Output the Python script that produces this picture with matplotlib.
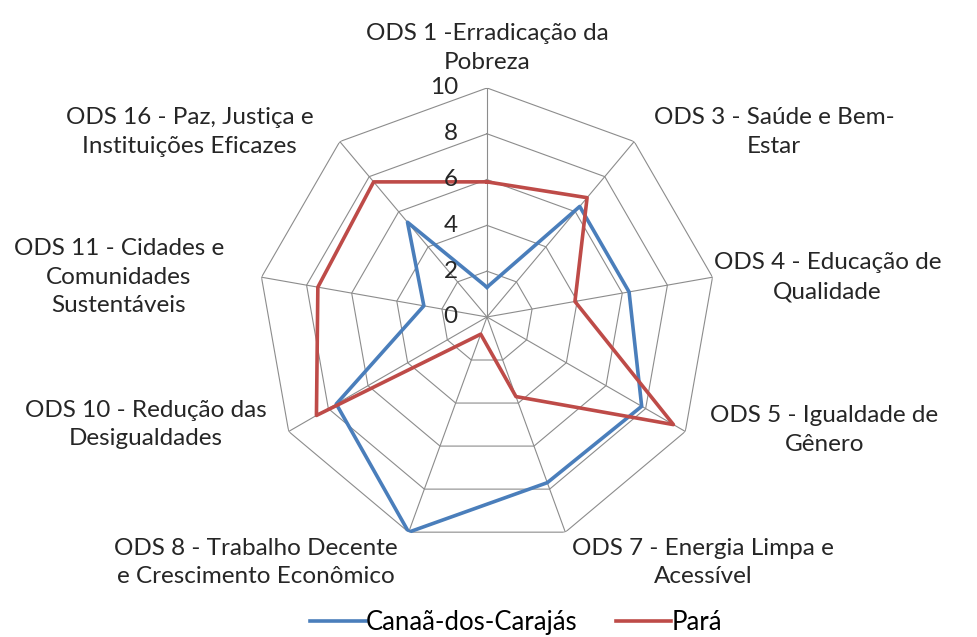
import numpy as np
import matplotlib.pyplot as plt

categories = [
    'ODS 1 -Erradicação da\nPobreza',
    'ODS 3 - Saúde e Bem-\nEstar',
    'ODS 4 - Educação de\nQualidade',
    'ODS 5 - Igualdade de\nGênero',
    'ODS 7 - Energia Limpa e\nAcessível',
    'ODS 8 - Trabalho Decente\ne Crescimento Econômico',
    'ODS 10 - Redução das\nDesigualdades',
    'ODS 11 - Cidades e\nComunidades\nSustentáveis',
    'ODS 16 - Paz, Justiça e\nInstituições Eficazes',
]
canaa = [1.3, 6.3, 6.3, 7.8, 7.7, 10.0, 7.6, 2.8, 5.4]
para = [5.9, 6.8, 3.9, 9.4, 3.7, 0.8, 8.6, 7.5, 7.7]
ticks = [0, 2, 4, 6, 8, 10]

# label placement: (dx, dy) offset in points, ha, va
label_pos = [
    (0, 11, 'center', 'bottom'),
    (14, 7, 'left', 'center'),
    (1, 0, 'left', 'center'),
    (18, 1, 'left', 'center'),
    (5, -4, 'left', 'top'),
    (-8, -4, 'right', 'top'),
    (-16, 5, 'right', 'center'),
    (-27, 0, 'right', 'center'),
    (-19, 7, 'right', 'center'),
]

plt.rcParams['font.family'] = ['Lato', 'DejaVu Sans']
fs = 17.5

blue = '#4a7ebb'
red = '#be4b48'
grid_col = '#8c8c8c'
text_col = '#262626'

n = len(categories)
theta = np.arange(n) * 2 * np.pi / n
theta_c = np.append(theta, theta[0])

fig = plt.figure(figsize=(9.78, 6.37), dpi=100)
ax = fig.add_axes([0.2638, 0.1429, 0.4683, 0.719], projection='polar')
ax.set_theta_offset(np.pi / 2)
ax.set_theta_direction(-1)
ax.set_ylim(0, 10)
ax.grid(False)
ax.spines['polar'].set_visible(False)
ax.set_xticks([])
ax.set_yticks([])

# polygon grid
for t in ticks[1:]:
    ax.plot(theta_c, [t] * (n + 1), color=grid_col, lw=0.8, zorder=1)
for a in theta:
    ax.plot([a, a], [0, 10], color=grid_col, lw=0.8, zorder=1)

ax.plot(theta_c, canaa + canaa[:1], color=blue, lw=2.6, label='Canaã-dos-Carajás', zorder=3)
ax.plot(theta_c, para + para[:1], color=red, lw=2.6, label='Pará', zorder=3)

for t in ticks:
    ax.annotate(str(t), xy=(0, t), xytext=(-21, 0), textcoords='offset points',
                ha='right', va='center', fontsize=fs, color=text_col)

for a, lab, (dx, dy, ha, va) in zip(theta, categories, label_pos):
    ax.annotate(lab, xy=(a, 10), xytext=(dx, dy), textcoords='offset points',
                ha=ha, va=va, multialignment='center', fontsize=fs,
                color=text_col, linespacing=1.45)

fig.legend(loc='lower center', ncol=2, frameon=False, fontsize=18.5,
           handlelength=2.15, columnspacing=1.5, handletextpad=0.02,
           bbox_to_anchor=(0.528, -0.033))

fig.savefig('out.png', dpi=100, facecolor='white')
